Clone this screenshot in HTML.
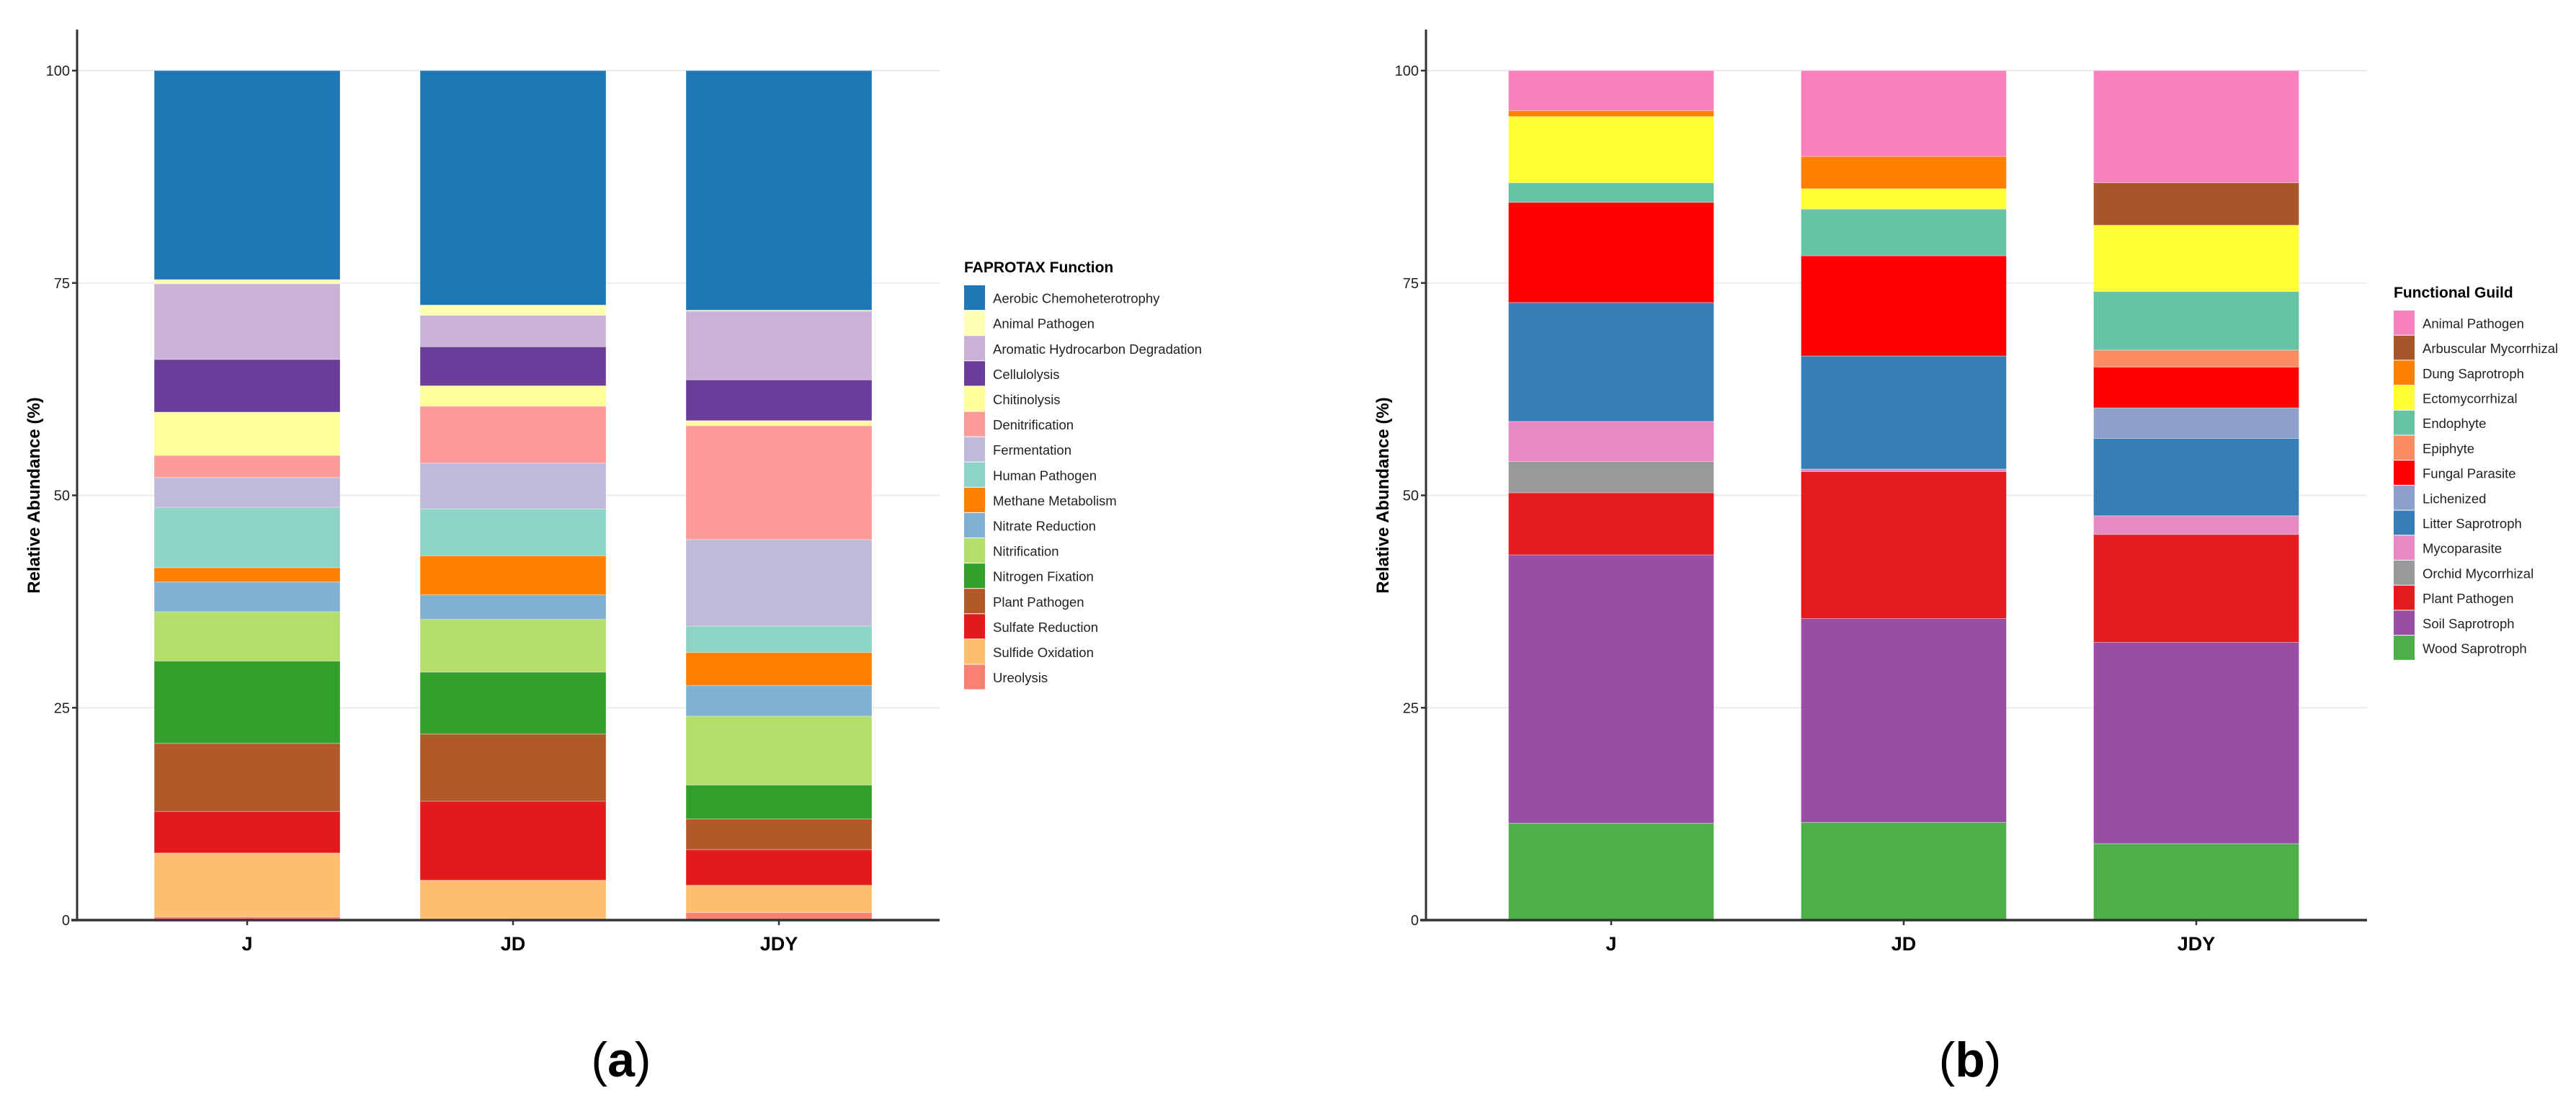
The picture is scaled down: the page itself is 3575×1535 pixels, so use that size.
<!DOCTYPE html>
<html><head><meta charset="utf-8"><style>
body{margin:0;background:#fff}
svg{display:block}
text{font-family:"Liberation Sans",sans-serif}
</style></head><body>
<svg id="chart" width="3575" height="1535" viewBox="0 0 3575 1535" xmlns="http://www.w3.org/2000/svg"></svg>
<script>
const categories = ["J","JD","JDY"];
const yTicks = [0,25,50,75,100];
const namesA = ["Aerobic Chemoheterotrophy","Animal Pathogen","Aromatic Hydrocarbon Degradation","Cellulolysis","Chitinolysis","Denitrification","Fermentation","Human Pathogen","Methane Metabolism","Nitrate Reduction","Nitrification","Nitrogen Fixation","Plant Pathogen","Sulfate Reduction","Sulfide Oxidation","Ureolysis"];
// values in legend order, for J, JD, JDY
const aJ   = [24.6,0.5,8.9,6.2,5.1,2.6,3.5,7.1,1.7,3.5,5.8,9.7,8.0,4.9,7.5,0.4];
const aJD  = [27.6,1.2,3.7,4.6,2.4,6.7,5.4,5.5,4.6,2.9,6.2,7.3,7.9,9.3,4.6,0.1];
const aJDY = [28.3,0.1,8.1,4.8,0.6,13.4,10.2,3.1,3.9,3.6,8.1,4.0,3.6,4.2,3.2,0.9];
const namesB = ["Animal Pathogen","Arbuscular Mycorrhizal","Dung Saprotroph","Ectomycorrhizal","Endophyte","Epiphyte","Fungal Parasite","Lichenized","Litter Saprotroph","Mycoparasite","Orchid Mycorrhizal","Plant Pathogen","Soil Saprotroph","Wood Saprotroph"];
const bJ   = [4.7,0,0.7,7.8,2.3,0,11.8,0,14.0,4.7,3.7,7.3,31.6,11.4];
const bJD  = [10.1,0,3.8,2.4,5.5,0,11.8,0,13.3,0.3,0,17.3,24.0,11.5];
const bJDY = [13.2,5.0,0,7.8,6.9,2.0,4.8,3.6,9.1,2.2,0,12.7,23.7,9.0];

const colorsA = ["#1f78b4","#ffffb3","#cab2d6","#6a3d9a","#ffff99","#fb9a99","#bebada","#8dd3c7","#ff7f00","#80b1d3","#b3de69","#33a02c","#b15928","#e31a1c","#fdbf6f","#fb8072"];
const colorsB = ["#f781bf","#a65628","#ff7f00","#ffff33","#66c2a5","#fc8d62","#ff0000","#8da0cb","#377eb8","#e78ac3","#999999","#e41a1c","#984ea3","#4daf4a"];

const NS="http://www.w3.org/2000/svg";
const svg=document.getElementById('chart');
function mk(tag,attrs,parent){const e=document.createElementNS(NS,tag);for(const k in attrs)e.setAttribute(k,attrs[k]);(parent||svg).appendChild(e);return e;}

function panel(cfg){
  const g=mk('g',{});
  
  
  const y=v=>cfg.y0+(cfg.y100-cfg.y0)*v/100;
  yTicks.forEach(t=>{
    const l=mk('line',{x1:cfg.ax,x2:cfg.axEnd,y1:y(t),y2:y(t),stroke:'#ebebeb','stroke-width':2},g);
    
    
  });
  const series=[cfg.dJ,cfg.dJD,cfg.dJDY];
  categories.forEach((c,ci)=>{
    const cx=cfg.x0+ci*cfg.step;
    const vals=series[ci];
    let acc=0;
    for(let i=vals.length-1;i>=0;i--){
      const v=vals[i]; if(v<=0) continue;
      const top=Math.min(acc+v,100);
      const r=mk('rect',{x:cx-cfg.bw/2,y:y(top),width:cfg.bw,height:Math.max(0,y(acc)-y(top)),fill:cfg.colors[i],stroke:'rgba(255,255,255,0.35)','stroke-width':1},g);
      
      
      acc=top;
    }
    const tk=mk('line',{x1:cx,x2:cx,y1:cfg.y0,y2:cfg.y0+7,stroke:'#333','stroke-width':2.5},g);
    
    
    const tl=mk('text',{x:cx,y:cfg.y0+42,'text-anchor':'middle','font-size':27,'font-weight':'bold',fill:'#000'},g);
    tl.textContent=c;
    
    
  });
  const ya=mk('line',{x1:cfg.ax,x2:cfg.ax,y1:41,y2:cfg.y0+1,stroke:'#333','stroke-width':3},g);
  
  
  const xa=mk('line',{x1:cfg.ax-8,x2:cfg.axEnd,y1:cfg.y0,y2:cfg.y0,stroke:'#333','stroke-width':3.5},g);
  
  
  yTicks.forEach(t=>{
    const tk=mk('line',{x1:cfg.ax-7,x2:cfg.ax,y1:y(t),y2:y(t),stroke:'#333','stroke-width':2.5},g);
    
    
    const tl=mk('text',{x:cfg.ax-10,y:y(t)+7,'text-anchor':'end','font-size':20,fill:'#222'},g);
    tl.textContent=t;
    
    
  });
  const yt=mk('text',{x:0,y:0,transform:`translate(${cfg.ax-52},${(cfg.y0+cfg.y100)/2}) rotate(-90)`,'text-anchor':'middle','font-size':24,'font-weight':'bold',fill:'#000'},g);
  yt.textContent='Relative Abundance (%)';
  
  
  const lg=mk('g',{},g);
  
  
  const lt=mk('text',{x:cfg.lx,y:cfg.ly,'font-size':21,'font-weight':'bold',fill:'#000'},lg);
  lt.textContent=cfg.legendTitle;
  
  
  cfg.names.forEach((n,i)=>{
    const ry=cfg.ly+18+i*cfg.lstep;
    const k=mk('rect',{x:cfg.lx,y:ry,width:29,height:cfg.lstep-1,fill:cfg.colors[i]},lg);
    
    
    const t=mk('text',{x:cfg.lx+40,y:ry+cfg.lstep/2+7,'font-size':18.5,fill:'#222'},lg);
    t.textContent=n;
    
    
  });
  const pl=mk('text',{x:cfg.labelX,y:1494,'text-anchor':'middle','font-size':68,'font-family':'"Liberation Serif",serif',fill:'#000'},g);
  pl.innerHTML='(<tspan font-weight="bold">'+cfg.label+'</tspan>)';
  
  
}

panel({name:'panel-a',ax:107,axEnd:1304,y0:1277,y100:98,x0:343,step:369,bw:258,
  dJ:aJ,dJD:aJD,dJDY:aJDY,names:namesA,colors:colorsA,legendTitle:'FAPROTAX Function',
  lx:1338,ly:378,lstep:35.1,labelX:862,label:'a'});
panel({name:'panel-b',ax:1979,axEnd:3285,y0:1277,y100:98,x0:2236,step:406,bw:285,
  dJ:bJ,dJD:bJD,dJDY:bJDY,names:namesB,colors:colorsB,legendTitle:'Functional Guild',
  lx:3322,ly:413,lstep:34.7,labelX:2734,label:'b'});
</script>
</body></html>
